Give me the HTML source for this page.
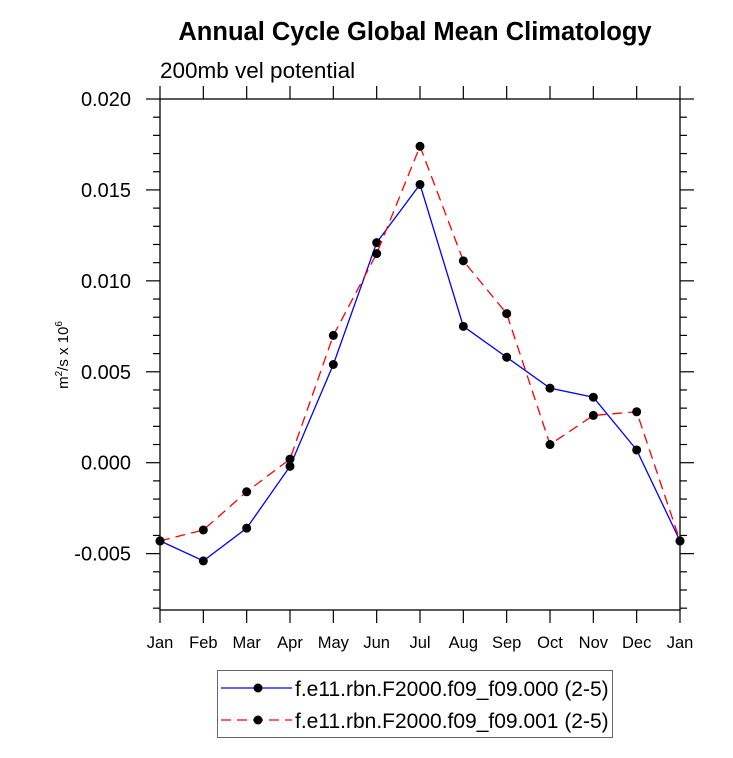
<!DOCTYPE html>
<html><head><meta charset="utf-8"><style>
body{margin:0;background:#fff;}
svg{display:block;font-family:"Liberation Sans",sans-serif;}
</style></head><body>
<svg id="chart" width="733" height="758">
<text x="415" y="40" text-anchor="middle" font-size="25.5" font-weight="bold">Annual Cycle Global Mean Climatology</text>
<text x="160" y="78" font-size="22.5">200mb vel potential</text>
<text transform="translate(68,355) rotate(-90)" text-anchor="middle" font-size="15">m<tspan font-size="10" dy="-6">2</tspan><tspan dy="6">/s x 10</tspan><tspan font-size="10" dy="-6">6</tspan></text>
<g id="axes"></g>
<g id="series"></g>
<g>
<rect x="217.5" y="670.5" width="395" height="67" fill="none" stroke="#666"/>
<g>
<line x1="221" y1="688" x2="292" y2="688" stroke="#00f" stroke-width="1.3"/>
<circle cx="258" cy="688" r="4.5" fill="#000"/>
<text x="295" y="696" font-size="21">f.e11.rbn.F2000.f09_f09.000 (2-5)</text>
</g>
<g>
<line x1="221" y1="720" x2="292" y2="720" stroke="#f00" stroke-width="1.3" stroke-dasharray="10,6"/>
<circle cx="258" cy="720" r="4.5" fill="#000"/>
<text x="295" y="728" font-size="21">f.e11.rbn.F2000.f09_f09.001 (2-5)</text>
</g>
</g>
</svg>
<script>
const months=["Jan","Feb","Mar","Apr","May","Jun","Jul","Aug","Sep","Oct","Nov","Dec","Jan"];
const series000=[-0.0043,-0.0054,-0.0036,-0.0002,0.0054,0.0121,0.0153,0.0075,0.0058,0.0041,0.0036,0.0007,-0.0043];
const series001=[-0.0043,-0.0037,-0.0016,0.0002,0.0070,0.0115,0.0174,0.0111,0.0082,0.0010,0.0026,0.0028,-0.0043];
const yTicks=[0.020,0.015,0.010,0.005,0.000,-0.005];
const yTickLabels=["0.020","0.015","0.010","0.005","0.000","-0.005"];
const L=160,R=680,T=99,B=610,yMin=-0.0081,yMax=0.020;
const NS="http://www.w3.org/2000/svg";
function xs(i){return L+i*(R-L)/(months.length-1);}
function ys(v){return B-(v-yMin)/(yMax-yMin)*(B-T);}
function mk(tag,attrs,parent){const e=document.createElementNS(NS,tag);for(const k in attrs)e.setAttribute(k,attrs[k]);parent.appendChild(e);return e;}
const ax=document.getElementById('axes');
const frame=mk('rect',{x:L,y:T,width:R-L,height:B-T,fill:'none',stroke:'#000','stroke-width':1.3},ax);


months.forEach((m,i)=>{
  const x=xs(i);
  mk('line',{x1:x,y1:B,x2:x,y2:B+13,stroke:'#000','stroke-width':1.2},ax);
  mk('line',{x1:x,y1:T,x2:x,y2:T-13,stroke:'#000','stroke-width':1.2},ax);
  const t=mk('text',{x:x,y:B+38,'text-anchor':'middle','font-size':16.5},ax);
  t.textContent=m;
  
  
});
for(let k=-8;k<=20;k++){
  const v=k*0.001,y=ys(v),major=(k%5===0);
  const len=major?14:7;
  mk('line',{x1:L,y1:y,x2:L-len,y2:y,stroke:'#000','stroke-width':1.2},ax);
  mk('line',{x1:R,y1:y,x2:R+len,y2:y,stroke:'#000','stroke-width':1.2},ax);
}
yTicks.forEach((v,i)=>{
  const t=mk('text',{x:131,y:ys(v)+7,'text-anchor':'end','font-size':20},ax);
  t.textContent=yTickLabels[i];
  
  
});
const sg=document.getElementById('series');
function draw(vals,color,dash,name){
  const g=mk('g',{},sg);
  
  
  const pts=vals.map((v,i)=>xs(i)+','+ys(v)).join(' ');
  const a={points:pts,fill:'none',stroke:color,'stroke-width':1.3};
  if(dash)a['stroke-dasharray']=dash;
  mk('polyline',a,g);
  vals.forEach((v,i)=>{
    const c=mk('circle',{cx:xs(i),cy:ys(v),r:4.5,fill:'#000'},g);
    
    
  });
}
draw(series000,'#00f',null,'series-000-line');
draw(series001,'#f00','10,6','series-001-line');
</script>
</body></html>
